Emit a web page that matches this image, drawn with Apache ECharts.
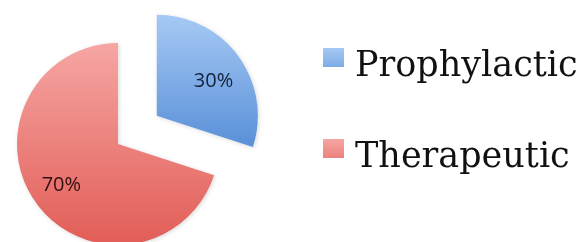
<!DOCTYPE html>
<html>
<head>
<meta charset="utf-8">
<script src="https://cdn.jsdelivr.net/npm/echarts@6/dist/echarts.min.js"></script>
<style>
  html, body { margin: 0; padding: 0; background: #fff; }
  #chart { width: 587px; height: 242px; }
</style>
</head>
<body>
<div id="chart"></div>
<script>
  // data
  var categories = ['Prophylactic', 'Therapeutic'];
  var values = [30, 70];
  var topColors = ['#a6c9f5', '#f6a6a3'];
  var bottomColors = ['#5990d8', '#e25d57'];
  var labelColors = ['#14213a', '#331010'];
  // blue label sits a little below its bisector in the original
  var labelFormats = ['{s| }\n{v|{c}%}', '{v|{c}%}'];

  var chart = echarts.init(document.getElementById('chart'));

  var pieData = categories.map(function (name, i) {
    return {
      name: name,
      value: values[i],
      selected: i === 0,
      itemStyle: {
        color: new echarts.graphic.LinearGradient(0, 0, 0, 1, [
          { offset: 0, color: topColors[i] },
          { offset: 1, color: bottomColors[i] }
        ])
      }
    };
  });

  // same slices, invisible, only to carry the percent labels further out
  var labelData = categories.map(function (name, i) {
    return {
      name: name,
      value: values[i],
      selected: i === 0,
      label: {
        formatter: labelFormats[i],
        rich: {
          s: { fontSize: 1, lineHeight: 14 },
          v: { color: labelColors[i], fontFamily: 'Open Sans', fontSize: 20, lineHeight: 24 }
        }
      }
    };
  });

  chart.setOption({
    animation: false,
    legend: {
      orient: 'vertical',
      left: 318,
      top: 43,
      itemWidth: 21,
      itemHeight: 37,
      itemGap: 54,
      symbolKeepAspect: false,
      icon: 'path://M0,0H21V19H0Z M10,36.9H10.1V37H10Z',
      selectedMode: false,
      textStyle: {
        fontFamily: 'DejaVu Serif',
        fontSize: 35,
        color: '#111',
        padding: [0, 0, 0, 6]
      },
      data: categories
    },
    series: [{
      type: 'pie',
      center: [118, 144],
      radius: [0, 101],
      startAngle: 90,
      clockwise: true,
      selectedMode: 'single',
      selectedOffset: 48,
      silent: true,
      label: { show: false },
      labelLine: { show: false },
      itemStyle: {
        borderWidth: 0,
        shadowBlur: 4,
        shadowOffsetX: 1,
        shadowOffsetY: 1,
        shadowColor: 'rgba(0,0,0,0.15)'
      },
      data: pieData
    }, {
      type: 'pie',
      center: [118, 144],
      radius: [0, 134],
      startAngle: 90,
      clockwise: true,
      selectedMode: 'single',
      selectedOffset: 48,
      silent: true,
      itemStyle: { color: 'rgba(0,0,0,0)', borderWidth: 0 },
      label: {
        show: true,
        position: 'inside',
        fontFamily: 'Open Sans',
        fontSize: 20
      },
      labelLine: { show: false },
      data: labelData
    }]
  });
</script>
</body>
</html>
